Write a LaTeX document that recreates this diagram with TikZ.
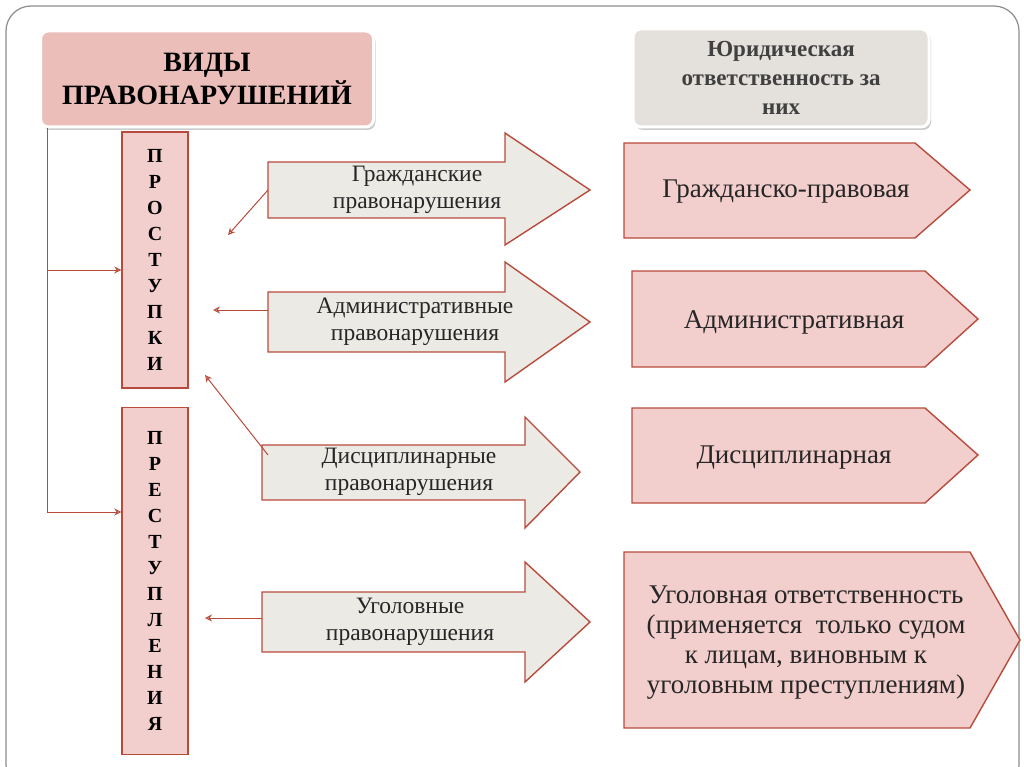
\documentclass[tikz,border=0pt]{standalone}
\usepackage{fontspec}
\setmainfont{Liberation Serif}
\usetikzlibrary{shadows,arrows.meta}
\definecolor{pinkf}{RGB}{242,206,204}
\definecolor{redb}{RGB}{185,75,60}
\definecolor{grayf}{RGB}{236,234,229}
\definecolor{hdrL}{RGB}{236,190,186}
\definecolor{hdrR}{RGB}{228,224,220}
\tikzset{
  pshape/.style={draw=redb,line width=1.4pt,fill=pinkf},
  gshape/.style={draw=redb,line width=1.4pt,fill=grayf},
  lbl/.style={font=\fontsize{23.5}{27}\selectfont,align=center,text=black!85},
  rlbl/.style={font=\fontsize{27}{30}\selectfont,align=center,text=black!85},
  vtxt/.style={font=\bfseries\fontsize{20}{26}\selectfont,align=center},
  hdr/.style={rounded corners=8pt,draw=white,line width=3pt,drop shadow={opacity=0.4,shadow xshift=2pt,shadow yshift=-3pt}},
  conn/.style={draw=redb,line width=1pt,-{Stealth[length=7pt,width=7pt,open]}}
}
\begin{document}
\begin{tikzpicture}[x=1pt,y=-1pt]
\useasboundingbox (0,0) rectangle (1024,767);
\draw[black!45,line width=1.2pt,rounded corners=25pt] (6,6) rectangle (1019,790);
% headers
\node[hdr,fill=hdrL,minimum width=333pt,minimum height=96pt,font=\bfseries\fontsize{28}{33}\selectfont,align=center] (h1) at (207,79) {ВИДЫ\\ПРАВОНАРУШЕНИЙ};
\node[hdr,fill=hdrR,minimum width=296pt,minimum height=98pt,font=\bfseries\fontsize{23}{29}\selectfont,align=center,text=black!75] (h2) at (781,78) {Юридическая\\ответственность за\\них};
% vertical boxes
\node[pshape,minimum width=66pt,minimum height=256pt,vtxt] (v1) at (155,260) {П\\Р\\О\\С\\Т\\У\\П\\К\\И};
\node[pshape,minimum width=66pt,minimum height=347pt,vtxt] (v2) at (155,581) {П\\Р\\Е\\С\\Т\\У\\П\\Л\\Е\\Н\\И\\Я};
% left connector
\coordinate (s) at (47,128);
\coordinate (c1) at (47,270);
\coordinate (c2) at (47,512);
\draw[redb,line width=1pt] (s) -- (c2);
\draw[conn] (c1) -- (v1.west|-c1);
\draw[conn] (c2) -- (v2.west|-c2);
% gray arrows
\draw[gshape] (268,162) -- (505,162) -- (505,133) -- (590,190) -- (505,245) -- (505,218) -- (268,218) -- cycle;
\node[lbl] (a1) at (417,190) {Гражданские\\правонарушения};
\draw[gshape] (268,292) -- (505,292) -- (505,262) -- (590,322) -- (505,382) -- (505,352) -- (268,352) -- cycle;
\node[lbl] (a2) at (415,322) {Административные\\правонарушения};
\draw[gshape] (262,445) -- (525,445) -- (525,417) -- (580,472) -- (525,528) -- (525,500) -- (262,500) -- cycle;
\node[lbl] (a3) at (409,472) {Дисциплинарные\\правонарушения};
\draw[gshape] (262,592) -- (525,592) -- (525,562) -- (590,622) -- (525,682) -- (525,652) -- (262,652) -- cycle;
\node[lbl] (a4) at (410,622) {Уголовные\\правонарушения};
% small arrows
\coordinate (p1) at (268,190); \coordinate (q1) at (228,235);
\coordinate (p2) at (268,310); \coordinate (q2) at (213,310);
\coordinate (p3) at (268,455); \coordinate (q3) at (205,375);
\coordinate (p4) at (262,618); \coordinate (q4) at (205,618);
\draw[conn] (p1) -- (q1);
\draw[conn] (p2) -- (q2);
\draw[conn] (p3) -- (q3);
\draw[conn] (p4) -- (q4);
% pink pentagons
\draw[pshape] (624,143) -- (915,143) -- (970,190) -- (915,238) -- (624,238) -- cycle;
\node[rlbl] (r1) at (786,192) {Гражданско-правовая};
\draw[pshape] (632,271) -- (925,271) -- (978,319) -- (925,367) -- (632,367) -- cycle;
\node[rlbl] (r2) at (794,322) {Административная};
\draw[pshape] (632,408) -- (925,408) -- (978,455) -- (925,503) -- (632,503) -- cycle;
\node[rlbl] (r3) at (794,458) {Дисциплинарная};
\draw[pshape] (624,552) -- (970,552) -- (1020,640) -- (970,728) -- (624,728) -- cycle;
\node[rlbl] (r4) at (806,643) {Уголовная ответственность\\(применяется\ \ только судом\\к лицам, виновным к\\уголовным преступлениям)};
\end{tikzpicture}
\end{document}
